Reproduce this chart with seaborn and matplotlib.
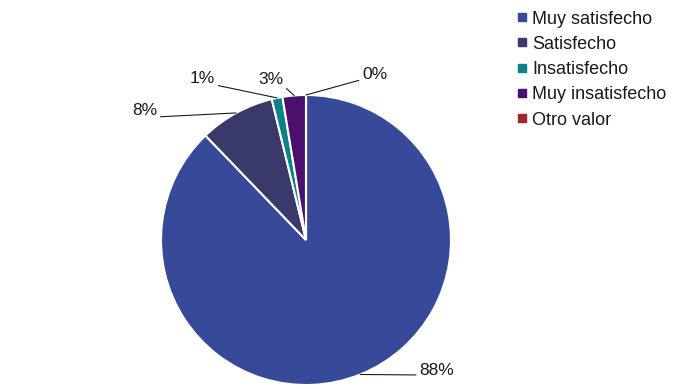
import numpy as np
import matplotlib
matplotlib.use("Agg")
import matplotlib.pyplot as plt
import seaborn as sns
from matplotlib.lines import Line2D

# data (percent of answers)
categories = ["Muy satisfecho", "Satisfecho", "Insatisfecho", "Muy insatisfecho", "Otro valor"]
values = [87.8, 8.4, 1.2, 2.6, 0.0]
colors = ["#374A9A", "#3A3A6A", "#0E8087", "#4B0F6E", "#A0282C"]

# label placement: offset of the label (pixels) from the wedge edge
label_offsets = [(59, 4), (-79, 2), (-62, 19), (-11, 16), (56, 20)]
label_align = ["left", "right", "right", "right", "left"]

sns.set_theme(style="white")
plt.rcParams["font.family"] = ["Liberation Sans", "DejaVu Sans"]

fig = plt.figure(figsize=(7, 3.89), dpi=100)
ax = fig.add_axes([0.23, 0.0103, 0.4143, 0.7455])

wedges, _ = ax.pie(values, colors=colors, startangle=90, counterclock=False,
                   radius=1, wedgeprops=dict(edgecolor="white", linewidth=1.5))
ax.set_xlim(-1, 1)
ax.set_ylim(-1, 1)
ax.set_aspect("equal")
ax.axis("off")

total = sum(values)
for w, v, off, ha in zip(wedges, values, label_offsets, label_align):
    mid = np.deg2rad((w.theta1 + w.theta2) / 2)
    xy = (np.cos(mid), np.sin(mid))
    relpos = (0, 0.2) if ha == "left" else (1, 0.1)
    ax.annotate(f"{v / total * 100:.0f}%", xy=xy, xytext=off, textcoords="offset pixels",
                ha=ha, va="center", fontsize=12.5, color="#1a1a1a", annotation_clip=False,
                arrowprops=dict(arrowstyle="-", color="#1a1a1a", lw=0.8,
                                shrinkA=0, shrinkB=0, relpos=relpos))

handles = [Line2D([0], [0], marker="s", linestyle="none", markersize=5.5,
                  markerfacecolor=c, markeredgecolor=c) for c in colors]
fig.legend(handles, categories, loc="upper left", bbox_to_anchor=(0.737, 0.973),
           frameon=False, fontsize=13, handlelength=0.65, handletextpad=0.25,
           labelspacing=0.46, borderpad=0, borderaxespad=0, labelcolor="#1a1a1a")

fig.savefig("out.png", dpi=100)
